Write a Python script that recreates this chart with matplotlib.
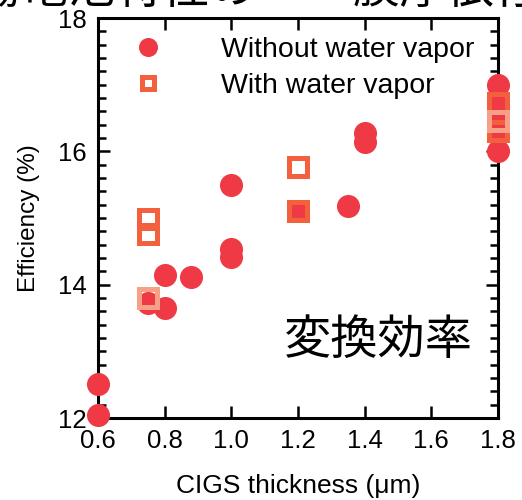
import numpy as np
import matplotlib
matplotlib.use('Agg')
import matplotlib.pyplot as plt
from matplotlib.lines import Line2D
from matplotlib.ticker import MultipleLocator

# CIGS thickness (um) vs efficiency (%)
x_dry = [0.6, 0.6, 0.75, 0.8, 0.8, 0.88, 1.0, 1.0, 1.0, 1.2, 1.35, 1.4, 1.4,
         1.8, 1.8, 1.8, 1.8, 1.8]
eff_dry = [12.05, 12.51, 13.72, 13.65, 14.15, 14.11, 14.42, 14.53, 15.5, 15.1,
           15.18, 16.14, 16.27, 17.0, 16.75, 16.55, 16.35, 16.0]

x_wet = [0.75, 0.75, 1.2, 1.2, 1.8, 1.8]
eff_wet = [14.99, 14.76, 15.77, 15.1, 16.72, 16.31]

x_wet2 = [0.75, 1.8]
eff_wet2 = [13.8, 16.45]

labels = ['Without water vapor', 'With water vapor']
xticks = [0.6, 0.8, 1.0, 1.2, 1.4, 1.6, 1.8]
yticks = [12, 14, 16, 18]
title_left = '太陽電池特性の'
title_right = '膜厚依存性'

c_dry = '#ef3a45'
c_wet = '#f2603e'
c_wet2 = '#f6a088'

plt.rcParams['font.family'] = ['Liberation Sans', 'DejaVu Sans']

fig = plt.figure(figsize=(5.22, 5.0), dpi=100)
ax = fig.add_axes([98/522, 1-418/500, 400/522, 400/500])

ax.plot(x_dry, eff_dry, 'o', color=c_dry, ms=16.6, mew=0, clip_on=False, zorder=5)
ax.plot(x_wet, eff_wet, 's', mfc='none', mec=c_wet, ms=13, mew=3.6, clip_on=False, zorder=6)
ax.plot(x_wet2, eff_wet2, 's', mfc='none', mec=c_wet2, ms=13, mew=3.6, clip_on=False, zorder=6)

ax.set_xlim(0.6, 1.8)
ax.set_ylim(12, 18)
ax.set_xticks(xticks)
ax.set_yticks(yticks)
ax.yaxis.set_minor_locator(MultipleLocator(0.2))
ax.tick_params(which='both', direction='in', top=True, right=True, width=1.8,
               labelsize=18.5, pad=8)
ax.tick_params(which='major', length=8.5)
ax.tick_params(which='minor', length=5.5)
ax.tick_params(axis='x', which='minor', bottom=False, top=False)
for s in ax.spines.values():
    s.set_linewidth(2.2)

ax.set_xlabel('CIGS thickness (\u03bcm)', fontsize=19, labelpad=15)
ax.set_ylabel('Efficiency (%)', fontsize=17.5, labelpad=13)

handles = [Line2D([], [], ls='none', marker='o', color=c_dry, ms=13.7, mew=0),
           Line2D([], [], ls='none', marker='s', mfc='none', mec=c_wet, ms=8.6, mew=3.6)]
ax.legend(handles, labels, loc='upper left', bbox_to_anchor=(0.055, 0.952),
          frameon=False, fontsize=20.5, handlelength=1.95, handletextpad=1.6,
          borderpad=0, borderaxespad=0, labelspacing=0.36)

ax.text(0.70, 0.192, '変換効率', transform=ax.transAxes, ha='center', va='center',
        fontsize=34, family=['Noto Sans CJK JP'])

# title line runs off the top edge, only its lower part shows
cjk = ['Noto Sans CJK JP', 'DejaVu Sans']
fig.text(-74/522, 1-3/500, title_left, ha='left', va='baseline', fontsize=34, family=cjk)
fig.text(353/522, 1-3/500, title_right, ha='left', va='baseline', fontsize=34, family=cjk)

fig.savefig('out.png', dpi=100)
